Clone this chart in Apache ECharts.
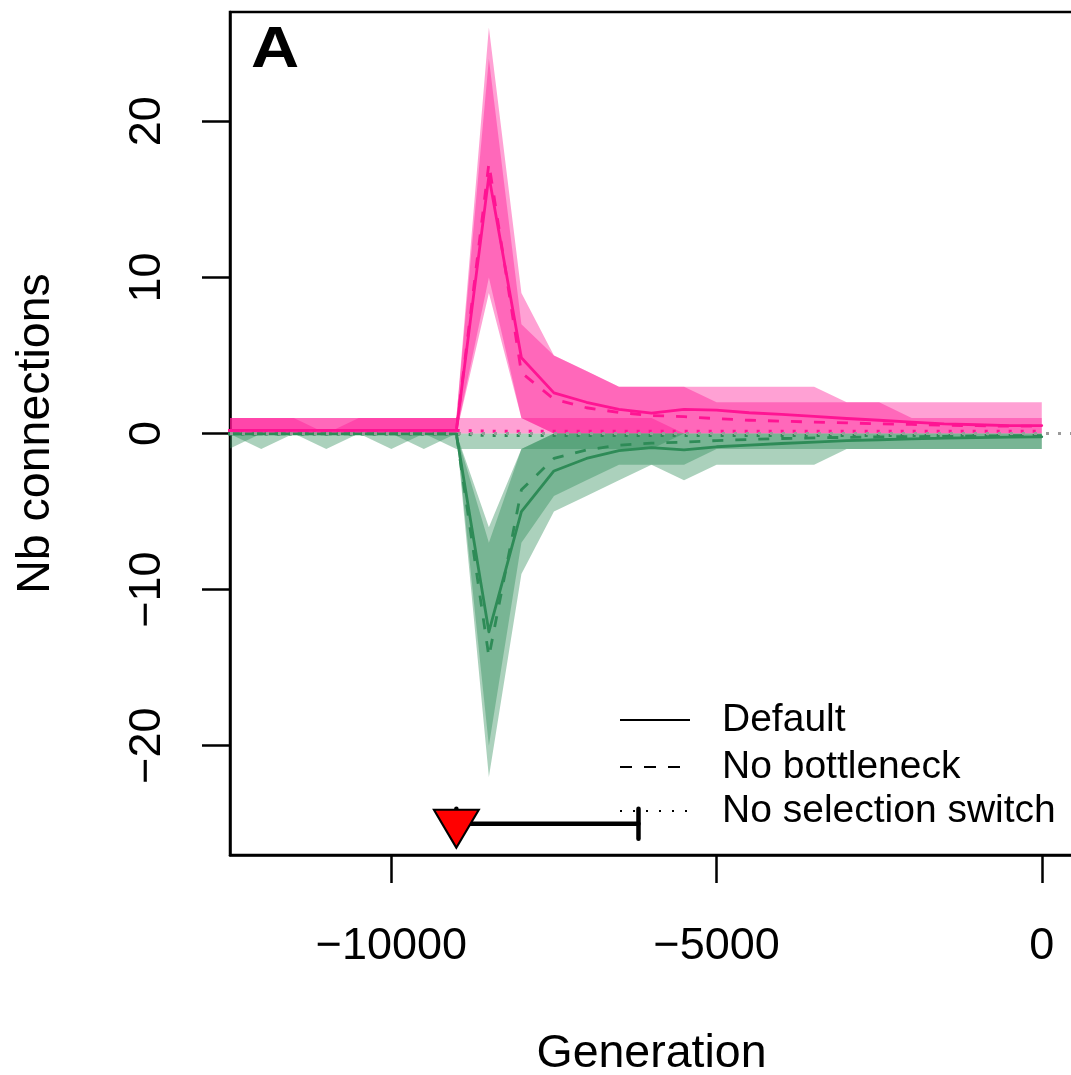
<!DOCTYPE html>
<html>
<head>
<meta charset="utf-8">
<script src="https://cdn.jsdelivr.net/npm/echarts@6/dist/echarts.min.js"></script>
<style>
html,body{margin:0;padding:0;background:#fff;}
#chart{width:1071px;height:1075px;}
</style>
</head>
<body>
<div id="chart"></div>
<script>
// ---- data ----
const generations = [-12500,-12000,-11500,-11000,-10500,-10000,-9500,-9000,-8500,-8000,-7500,-7000,-6500,-6000,-5500,-5000,-4500,-4000,-3500,-3000,-2500,-2000,-1500,-1000,-500,0];

// gained connections (pink)
const pinkDefault      = [0.2,0.2,0.2,0.2,0.2,0.2,0.2,0.2,16.5,4.85,2.6,2.0,1.55,1.3,1.55,1.5,1.33,1.22,1.1,0.96,0.85,0.73,0.62,0.56,0.51,0.51];
const pinkNoBottleneck = [0.2,0.2,0.2,0.2,0.2,0.2,0.2,0.2,17.3,3.9,2.2,1.65,1.35,1.15,1.08,0.95,0.85,0.79,0.73,0.68,0.62,0.58,0.53,0.5,0.47,0.47];
const pinkNoSwitch     = [0.2,0.2,0.2,0.2,0.2,0.2,0.2,0.2,0.15,0.15,0.15,0.15,0.15,0.15,0.15,0.15,0.15,0.15,0.15,0.15,0.15,0.15,0.15,0.15,0.15,0.15];
const pinkDefaultLo    = [0,0,0,0,0,0,0,0,9,1,0,0,0,0,0,0,0,0,0,0,0,0,0,0,0,0];
const pinkDefaultHi    = [1,1,1,1,1,1,1,1,26,9,5,4,3,3,3,3,3,3,3,2,2,2,2,2,2,2];
const pinkNoBnLo       = [0,0,0,0,0,0,0,0,10,1,0,0,0,0,0,0,0,0,0,0,0,0,0,0,0,0];
const pinkNoBnHi       = [1,1,1,0,1,1,1,1,24,7,5,4,3,3,3,2,2,2,2,2,2,1,1,1,1,1];
const pinkNoSwLo       = [0,0,0,0,0,0,0,0,0,0,0,0,0,0,0,0,0,0,0,0,0,0,0,0,0,0];
const pinkNoSwHi       = [1,1,1,1,1,1,1,1,1,1,1,1,1,1,0,0,0,0,0,0,0,0,0,0,0,0];

// lost connections (green)
const greenDefault      = [-0.03,-0.03,-0.03,-0.03,-0.03,-0.03,-0.03,-0.03,-12.7,-5.0,-2.4,-1.6,-1.1,-0.9,-1.05,-0.85,-0.75,-0.64,-0.55,-0.45,-0.4,-0.34,-0.3,-0.26,-0.23,-0.21];
const greenNoBottleneck = [-0.03,-0.03,-0.03,-0.03,-0.03,-0.03,-0.03,-0.03,-14.3,-3.6,-1.6,-1.05,-0.75,-0.62,-0.55,-0.45,-0.38,-0.32,-0.28,-0.25,-0.22,-0.2,-0.18,-0.16,-0.14,-0.13];
const greenNoSwitch     = [-0.03,-0.03,-0.03,-0.03,-0.03,-0.03,-0.03,-0.03,-0.13,-0.13,-0.13,-0.13,-0.13,-0.13,-0.13,-0.13,-0.13,-0.13,-0.13,-0.13,-0.13,-0.13,-0.13,-0.13,-0.13,-0.13];
const greenDefaultLo    = [0,-1,0,-1,0,-1,0,0,-22,-9,-5,-4,-3,-2,-3,-2,-2,-2,-2,-1,-1,-1,-1,-1,-1,-1];
const greenDefaultHi    = [0,0,0,0,0,0,0,0,-6,-1,0,0,0,0,0,0,0,0,0,0,0,0,0,0,0,0];
const greenNoBnLo       = [-1,0,0,0,0,0,-1,0,-20,-7,-4,-3,-2,-2,-2,-1,-1,-1,-1,-1,-1,-1,-1,-1,-1,-1];
const greenNoBnHi       = [0,0,0,0,0,0,0,0,-7,-1,0,0,0,0,0,0,0,0,0,0,0,0,0,0,0,0];
const greenNoSwLo       = [0,0,0,0,0,0,0,-1,-1,-1,-1,-1,-1,-1,0,0,0,0,0,0,0,0,0,0,0,0];
const greenNoSwHi       = [0,0,0,0,0,0,0,0,0,0,0,0,0,0,0,0,0,0,0,0,0,0,0,0,0,0];

// bottleneck marker and interval
const bottleneckGen = -9000;
const intervalEnd = -6200;
const markerLevel = -25;

// axes
const xTicks = [-10000,-5000,0];
const yTicks = [-20,-10,0,10,20];
const legendLabels = ['Default','No bottleneck','No selection switch'];

// ---- chart ----
const PINK = '#ff1493', GREEN = '#2e8b57';
const PINK_BAND = 'rgba(255,20,147,0.4)', GREEN_BAND = 'rgba(46,139,87,0.4)';
const FONT = '"Liberation Sans", Arial, Helvetica, sans-serif';

function band(lo, hi, fill) {
  return {
    type: 'custom', silent: true, clip: true, z: 1,
    data: [[generations[0], lo[0]]],
    renderItem: function (params, api) {
      const pts = [];
      for (let i = 0; i < generations.length; i++) pts.push(api.coord([generations[i], hi[i]]));
      for (let i = generations.length - 1; i >= 0; i--) pts.push(api.coord([generations[i], lo[i]]));
      return { type: 'polygon', shape: { points: pts }, style: { fill: fill } };
    }
  };
}
function line(vals, color, dash, width) {
  return {
    type: 'line', silent: true, z: 3, symbol: 'none', clip: true,
    data: generations.map((g, i) => [g, vals[i]]),
    lineStyle: { color: color, width: width, type: dash, cap: dash === 'solid' ? 'round' : 'butt', join: 'round' }
  };
}
const minusFmt = v => String(v).replace('-', '\u2212');

const option = {
  animation: false,
  backgroundColor: '#fff',
  grid: { left: 230, top: 12, width: 843, height: 843, outerBoundsMode: 'none', containLabel: false,
          show: true, borderColor: '#000', borderWidth: 2.5, backgroundColor: 'transparent' },
  xAxis: {
    type: 'value', min: -12480, max: 480,
    name: 'Generation', nameLocation: 'middle', nameGap: 176,
    nameTextStyle: { fontFamily: FONT, fontSize: 46.5, color: '#000' },
    axisLine: { show: true, onZero: false, lineStyle: { color: '#000', width: 2.5 } },
    axisTick: { show: true, length: 28, lineStyle: { color: '#000', width: 2.5 }, customValues: xTicks },
    axisLabel: { fontFamily: FONT, fontSize: 45, color: '#000', margin: 69, customValues: xTicks, formatter: minusFmt },
    splitLine: { show: false }
  },
  yAxis: {
    type: 'value', min: -27, max: 27,
    name: 'Nb connections', nameLocation: 'middle', nameGap: 170,
    nameTextStyle: { fontFamily: FONT, fontSize: 46.5, color: '#000' },
    axisLine: { show: true, onZero: false, lineStyle: { color: '#000', width: 2.5 } },
    axisTick: { show: true, length: 28, lineStyle: { color: '#000', width: 2.5 }, customValues: yTicks },
    axisLabel: { fontFamily: FONT, fontSize: 45, color: '#000', margin: 60, rotate: 90, customValues: yTicks, formatter: minusFmt },
    splitLine: { show: false }
  },
  series: [
    { type: 'line', silent: true, data: [], z: 0,
      markLine: { silent: true, symbol: 'none', label: { show: false },
        lineStyle: { color: '#9a9a9a', width: 3, type: [3, 9] }, data: [{ yAxis: 0 }] } },
    band(pinkNoSwLo, pinkNoSwHi, PINK_BAND),
    band(pinkDefaultLo, pinkDefaultHi, PINK_BAND),
    band(pinkNoBnLo, pinkNoBnHi, PINK_BAND),
    band(greenNoSwLo, greenNoSwHi, GREEN_BAND),
    band(greenDefaultLo, greenDefaultHi, GREEN_BAND),
    band(greenNoBnLo, greenNoBnHi, GREEN_BAND),
    line(pinkNoSwitch, PINK, [3, 9], 3),
    line(greenNoSwitch, GREEN, [3, 9], 3),
    line(pinkNoBottleneck, PINK, [11, 12], 2.8),
    line(greenNoBottleneck, GREEN, [11, 12], 2.8),
    line(pinkDefault, PINK, 'solid', 2.8),
    line(greenDefault, GREEN, 'solid', 2.8),
    { type: 'custom', silent: true, z: 4, clip: false,
      data: [[bottleneckGen, intervalEnd, markerLevel]],
      renderItem: function (params, api) {
        const a = api.coord([api.value(0), api.value(2)]);
        const b = api.coord([api.value(1), api.value(2)]);
        const st = { stroke: '#000', lineWidth: 4.5, lineCap: 'round' };
        return { type: 'group', children: [
          { type: 'line', shape: { x1: a[0], y1: a[1], x2: b[0], y2: b[1] }, style: st },
          { type: 'line', shape: { x1: a[0], y1: a[1] - 15, x2: a[0], y2: a[1] + 15 }, style: st },
          { type: 'line', shape: { x1: b[0], y1: b[1] - 15, x2: b[0], y2: b[1] + 15 }, style: st }
        ]};
      }
    },
    { type: 'scatter', silent: true, z: 5,
      data: [[bottleneckGen, markerLevel]],
      symbol: 'triangle', symbolRotate: 180, symbolSize: [45, 38], symbolOffset: [0, 5],
      itemStyle: { color: '#ff0000', borderColor: '#000', borderWidth: 2, opacity: 1 } }
  ],
  graphic: [
    { type: 'text', x: 251, y: 22, scaleX: 1.15, z: 10, style: { text: 'A', font: 'bold 58px ' + FONT, fill: '#000' } },
    { type: 'line', z: 10, shape: { x1: 620, y1: 720, x2: 690, y2: 720 }, style: { stroke: '#000', lineWidth: 2 } },
    { type: 'line', z: 10, shape: { x1: 620, y1: 767, x2: 684, y2: 767 }, style: { stroke: '#000', lineWidth: 2, lineDash: [12, 12] } },
    { type: 'line', z: 10, shape: { x1: 620, y1: 811, x2: 690, y2: 811 }, style: { stroke: '#000', lineWidth: 2, lineDash: [2, 11] } },
    { type: 'text', z: 10, x: 722, y: 720, style: { text: legendLabels[0], font: '39px ' + FONT, fill: '#000', textVerticalAlign: 'middle' } },
    { type: 'text', z: 10, x: 722, y: 767, style: { text: legendLabels[1], font: '39px ' + FONT, fill: '#000', textVerticalAlign: 'middle' } },
    { type: 'text', z: 10, x: 722, y: 811, style: { text: legendLabels[2], font: '39px ' + FONT, fill: '#000', textVerticalAlign: 'middle' } }
  ]
};
const chart = echarts.init(document.getElementById('chart'), null, { renderer: 'canvas' });
chart.setOption(option);
</script>
</body>
</html>
